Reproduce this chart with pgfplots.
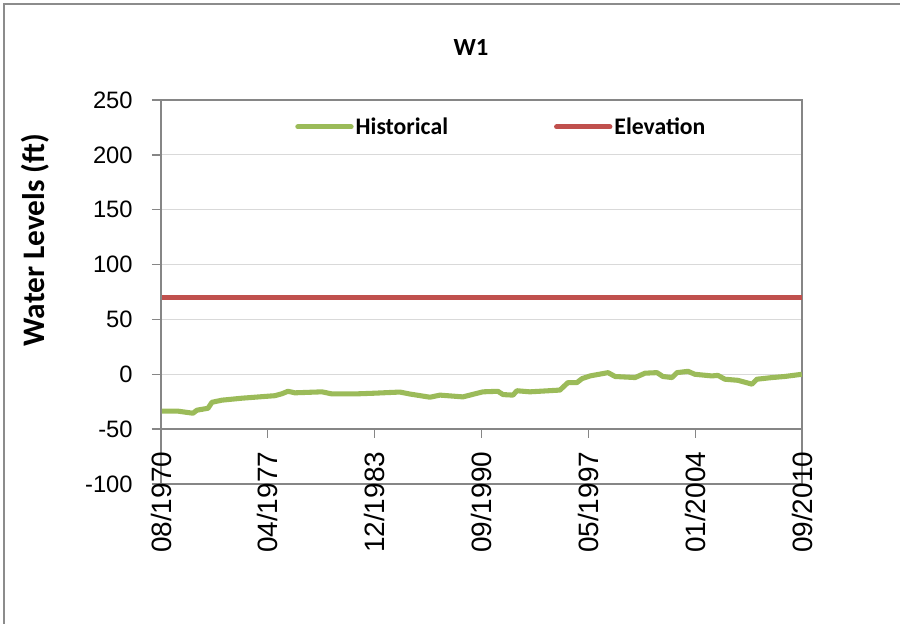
\documentclass[border=0pt]{standalone}
\usepackage{fontspec}
\setmainfont{Carlito}
\newfontfamily\arialf{Liberation Sans}
\usepackage{pgfplots}
\pgfplotsset{compat=1.18}
\definecolor{histgreen}{HTML}{9BBB59}
\definecolor{elevred}{HTML}{C0504D}
\definecolor{axgray}{HTML}{868686}
\definecolor{gridgray}{HTML}{D9D9D9}
\definecolor{framegray}{HTML}{8C8C8C}
\begin{document}
\begin{tikzpicture}
\path[use as bounding box] (-120.75pt,-105pt) rectangle (554.25pt,363pt);
\draw[framegray, line width=1.3pt] (-117.75pt,-106pt) -- (-117.75pt,360pt) -- (555pt,360pt);
\begin{axis}[
  at={(0pt,0pt)}, anchor=south west,
  scale only axis,
  width=480.75pt, height=288pt,
  xmin=0.58, xmax=40.67,
  ymin=-100, ymax=250,
  ytick={-100,-50,0,50,100,150,200,250},
  xtick={0.58,7.2617,13.9433,20.625,27.3067,33.9883,40.67},
  xticklabels={08/1970,04/1977,12/1983,09/1990,05/1997,01/2004,09/2010},
  ytick pos=left, xtick pos=bottom,
  tick align=outside,
  major tick length=6.75pt,
  xtick style={draw=none},
  ytick style={axgray, line width=1pt},
  axis line style={axgray, line width=1pt},
  ymajorgrids,
  grid style={gridgray, line width=0.9pt},
  /pgf/number format/assume math mode=true,
  yticklabel style={font=\arialf\fontsize{17.8}{20}\selectfont, xshift=-11pt},
  xticklabel style={font=\arialf\fontsize{21}{24}\selectfont, rotate=90, anchor=east},
  xticklabel shift=-34.5pt,
  clip=false,
  legend style={at={(0.531,0.930)}, anchor=center, draw=none, fill=none,
    legend columns=2, font=\bfseries\fontsize{17.8}{20}\selectfont,
    nodes={inner sep=1.5pt},
    /tikz/every even column/.append style={column sep=78pt}},
  legend image code/.code={\draw[#1, line cap=round] (0pt,0pt) -- (40pt,0pt);},
]
\draw[axgray, line width=1pt] ([xshift=-6.75pt]axis cs:0.58,-50) -- (axis cs:40.67,-50);
\draw[axgray, line width=1pt] (axis cs:0.58,-50) -- ([yshift=-6.75pt]axis cs:0.58,-50);
\draw[axgray, line width=1pt] (axis cs:7.2617,-50) -- ([yshift=-6.75pt]axis cs:7.2617,-50);
\draw[axgray, line width=1pt] (axis cs:13.9433,-50) -- ([yshift=-6.75pt]axis cs:13.9433,-50);
\draw[axgray, line width=1pt] (axis cs:20.625,-50) -- ([yshift=-6.75pt]axis cs:20.625,-50);
\draw[axgray, line width=1pt] (axis cs:27.3067,-50) -- ([yshift=-6.75pt]axis cs:27.3067,-50);
\draw[axgray, line width=1pt] (axis cs:33.9883,-50) -- ([yshift=-6.75pt]axis cs:33.9883,-50);
\draw[axgray, line width=1pt] (axis cs:40.67,-50) -- ([yshift=-6.75pt]axis cs:40.67,-50);
\addplot[histgreen, line width=3.8pt, line join=round, no markers] coordinates {
(0.64,-33.6) (1.64,-33.6) (2.58,-35.5) (2.83,-32.7) (3.52,-31)
(3.77,-25.5) (4.39,-23.6) (5.64,-21.8) (7.71,-19.5) (8.15,-17.7)
(8.52,-15.5) (8.96,-16.9) (10.65,-16) (11.27,-17.9) (12.71,-17.9)
(13.84,-17.3) (15.52,-16.2) (16.15,-18) (17.40,-20.9) (18.03,-19)
(19.46,-20.6) (20.71,-16) (21.65,-15.5) (21.97,-18.5) (22.59,-19)
(22.84,-15) (23.65,-16) (25.53,-14.4) (26.03,-7.6) (26.59,-7.6)
(26.91,-4) (27.41,-1.5) (28.54,1.5) (28.98,-2) (30.23,-3)
(30.85,1) (31.60,1.5) (31.97,-2) (32.54,-3) (32.85,1.5)
(33.54,2.7) (33.97,0) (35.03,-1.5) (35.41,-1) (35.85,-4.5)
(36.66,-5.5) (37.54,-9) (37.85,-4.5) (38.79,-3) (39.60,-2)
(40.66,0)
};
\addlegendentry{Historical}
\addplot[elevred, line width=3.8pt, no markers] coordinates {
(0.64,70) (40.66,70)
};
\addlegendentry{Elevation}
\end{axis}
\node[font=\bfseries\fontsize{18.5}{20}\selectfont] at (232.5pt,327.75pt) {W1};
\node[font=\bfseries\fontsize{23.5}{26}\selectfont, rotate=90] at (-94.5pt,183pt) {Water Levels (ft)};
\end{tikzpicture}
\end{document}
